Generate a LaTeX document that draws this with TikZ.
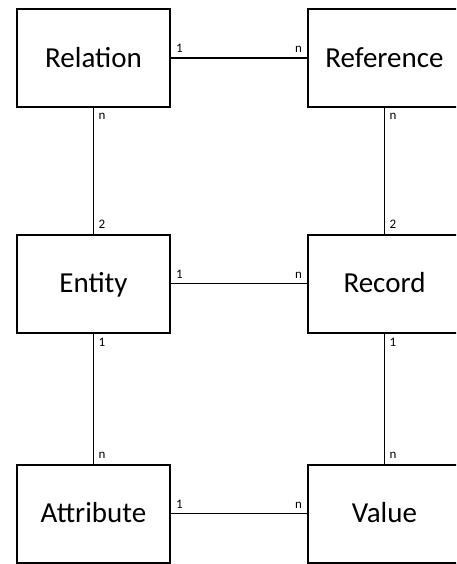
\documentclass[tikz,border=0pt]{standalone}
\usepackage{fontspec}
\setmainfont{Carlito}
\begin{document}
\begin{tikzpicture}[x=1pt, y=-1pt,
  box/.style={draw, line width=2pt, minimum width=153pt, minimum height=98pt, text height=24.7pt, text depth=6pt, font=\fontsize{29}{34}\selectfont},
  link/.style={line width=1.2pt},
  card/.style={font=\fontsize{13}{15}\selectfont, inner sep=4.5pt}]
\useasboundingbox (0,0) rectangle (456,564);
\clip (0,0) rectangle (456,564);
% scatole
\node[box] (relation) at (93.5, 58) {Relation};
\node[box] (reference) at (384.5, 58) {Reference};
\node[box] (entity) at (93.5, 283.5) {Entity};
\node[box] (record) at (384.5, 283.5) {Record};
\node[box] (attribute) at (93.5, 513.5) {Attribute};
\node[box] (value) at (384.5, 513.5) {Value};
% orizzontali
\draw[link] (relation) -- (reference) node[card, pos=0, above right] {1} node[card, pos=1, above left] {n};
\draw[link] (entity) -- (record) node[card, pos=0, above right] {1} node[card, pos=1, above left] {n};
\draw[link] (attribute) -- (value) node[card, pos=0, above right] {1} node[card, pos=1, above left] {n};
% verticali
\draw[link] (relation) -- (entity) node[card, pos=0, below right] {n} node[card, pos=1, above right] {2};
\draw[link] (reference) -- (record) node[card, pos=0, below right] {n} node[card, pos=1, above right] {2};
\draw[link] (entity) -- (attribute) node[card, pos=0, below right] {1} node[card, pos=1, above right] {n};
\draw[link] (record) -- (value) node[card, pos=0, below right] {1} node[card, pos=1, above right] {n};
\end{tikzpicture}
\end{document}
